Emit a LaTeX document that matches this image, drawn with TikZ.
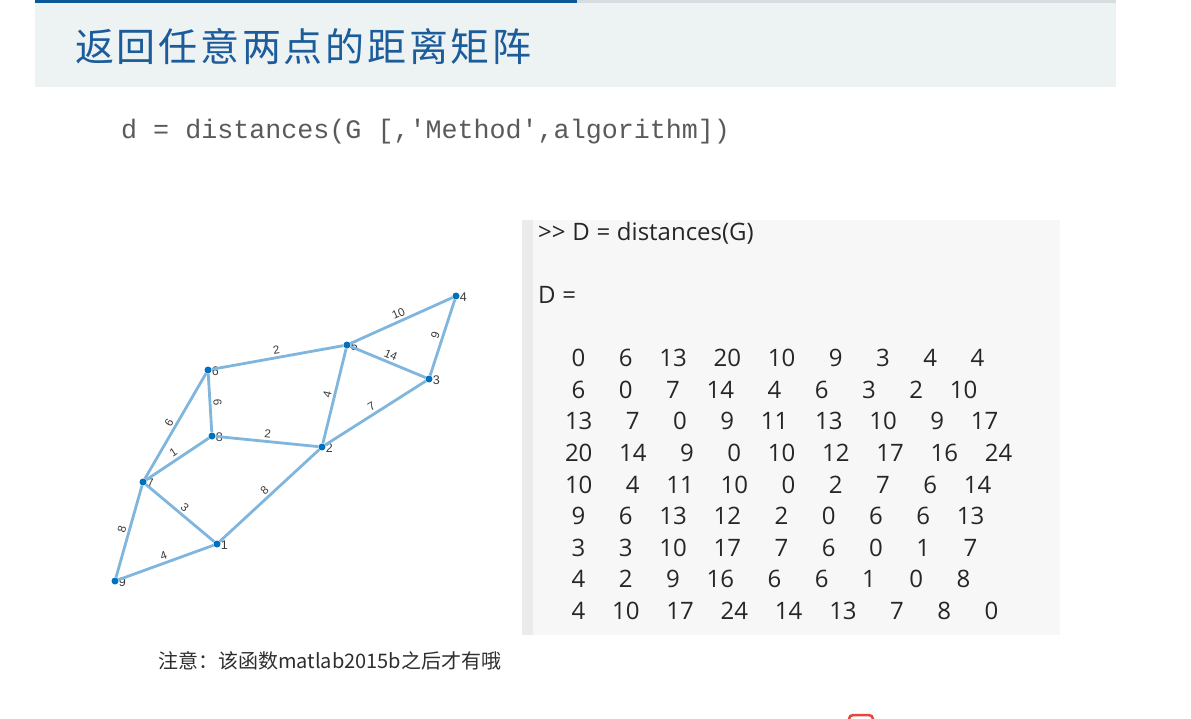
\documentclass[tikz,border=0pt]{standalone}
\usepackage{fontspec}
\newfontfamily\titlefont[LetterSpace=7]{Noto Sans CJK SC}
\newfontfamily\cjk{Noto Sans CJK SC}
\newfontfamily\codefont{Liberation Mono}
\newfontfamily\consfont{Open Sans}
\newfontfamily\plotfont{Liberation Sans}

\definecolor{barblue}{HTML}{0B5797}
\definecolor{bargray}{HTML}{D5DDE0}
\definecolor{headbg}{HTML}{EDF2F3}
\definecolor{titleblue}{HTML}{1D5C9B}
\definecolor{codegray}{HTML}{5A5A5A}
\definecolor{edgeblue}{HTML}{80B6DD}
\definecolor{dotblue}{HTML}{0072BD}
\definecolor{labgray}{HTML}{3A3A3A}
\definecolor{notegray}{HTML}{2E2E2E}
\definecolor{panelbg}{HTML}{F7F7F7}
\definecolor{panelbar}{HTML}{EBEBEB}
\definecolor{notered}{HTML}{E8453C}

% console font, with fixed word spaces
\newcommand\consfnt{\consfont\fontsize{24}{24}\selectfont\spaceskip 6.7pt\relax}
% one row of the matlab output, fields six characters wide
\newcommand\mrow[1]{\foreach \v in {#1}{\ifnum\v<10 ~\fi~~~~\v}}

\begin{document}
\begin{tikzpicture}[x=1pt,y=-1pt,
  vtx/.style={circle,fill=dotblue,inner sep=0pt,minimum size=7pt,
    label={[nlab]right:#1}},
  nlab/.style={font=\plotfont\fontsize{12.5}{12.5}\selectfont,text=labgray,
    inner sep=0pt,yshift=-1.5pt},
  edge/.style={draw=edgeblue,line width=2.8pt},
  wlab/.style={font=\plotfont\fontsize{11.5}{11.5}\selectfont,text=labgray,
    inner sep=2pt,midway,sloped,above},
  cons/.style={anchor=base west,inner sep=0pt,font=\consfnt,text=black!85}]

\useasboundingbox (0,0) rectangle (1191,719);

% slide header
\fill[headbg] (35,3.5) rectangle (1116,87);
\fill[barblue] (35,0) rectangle (577,3.5);
\fill[bargray] (577,0) rectangle (1116,3.5);
\node[anchor=west,inner sep=0pt,text=titleblue,
  font=\titlefont\fontsize{39}{39}\selectfont] (title) at (75,47)
  {返回任意两点的距离矩阵};

\node[anchor=base west,inner sep=0pt,text=codegray,
  font=\codefont\fontsize{26.7}{26.7}\selectfont] (syntax) at (121,139)
  {d = distances(G [,\textquotesingle Method\textquotesingle,algorithm])};

% the graph
\node[vtx=1] (n1) at (217,544) {};
\node[vtx=2] (n2) at (322,447) {};
\node[vtx=3] (n3) at (429,379) {};
\node[vtx=4] (n4) at (456,296) {};
\node[vtx=5] (n5) at (347,345) {};
\node[vtx=6] (n6) at (208,370) {};
\node[vtx=7] (n7) at (143,482) {};
\node[vtx=8] (n8) at (212,436) {};
\node[vtx=9] (n9) at (115,581) {};

\draw[edge] (n6) -- node[wlab] {2} (n5);
\draw[edge] (n5) -- node[wlab] {10} (n4);
\draw[edge] (n5) -- node[wlab] {14} (n3);
\draw[edge] (n4) -- node[wlab] {9} (n3);
\draw[edge] (n5) -- node[wlab] {4} (n2);
\draw[edge] (n2) -- node[wlab] {7} (n3);
\draw[edge] (n8) -- node[wlab] {2} (n2);
\draw[edge] (n6) -- node[wlab] {6} (n8);
\draw[edge] (n6) -- node[wlab] {6} (n7);
\draw[edge] (n7) -- node[wlab] {1} (n8);
\draw[edge] (n7) -- node[wlab] {3} (n1);
\draw[edge] (n1) -- node[wlab] {8} (n2);
\draw[edge] (n7) -- node[wlab] {8} (n9);
\draw[edge] (n1) -- node[wlab] {4} (n9);

% command window
\fill[panelbg] (522,220) rectangle (1060,635);
\fill[panelbar] (522,220) rectangle (533,635);
\node[cons] (cmd) at (538,241) {>{}> D = distances(G)};
\node[cons] (dvar) at (538,304) {D =};
\node[cons] (r1) at (538,366.6) {\mrow{0,6,13,20,10,9,3,4,4}};
\node[cons] (r2) at (538,398.2) {\mrow{6,0,7,14,4,6,3,2,10}};
\node[cons] (r3) at (538,429.8) {\mrow{13,7,0,9,11,13,10,9,17}};
\node[cons] (r4) at (538,461.4) {\mrow{20,14,9,0,10,12,17,16,24}};
\node[cons] (r5) at (538,493.0) {\mrow{10,4,11,10,0,2,7,6,14}};
\node[cons] (r6) at (538,524.6) {\mrow{9,6,13,12,2,0,6,6,13}};
\node[cons] (r7) at (538,556.2) {\mrow{3,3,10,17,7,6,0,1,7}};
\node[cons] (r8) at (538,587.8) {\mrow{4,2,9,16,6,6,1,0,8}};
\node[cons] (r9) at (538,619.4) {\mrow{4,10,17,24,14,13,7,8,0}};

\node[anchor=west,inner sep=0pt,text=notegray,
  font=\cjk\fontsize{20}{20}\selectfont] (note) at (158,661)
  {注意：该函数matlab2015b之后才有哦};

% cut-off icon at the lower edge
\draw[notered,line width=2.5pt,fill=white,rounded corners=4pt]
  (849,715) rectangle (873,730);

\end{tikzpicture}
\end{document}
